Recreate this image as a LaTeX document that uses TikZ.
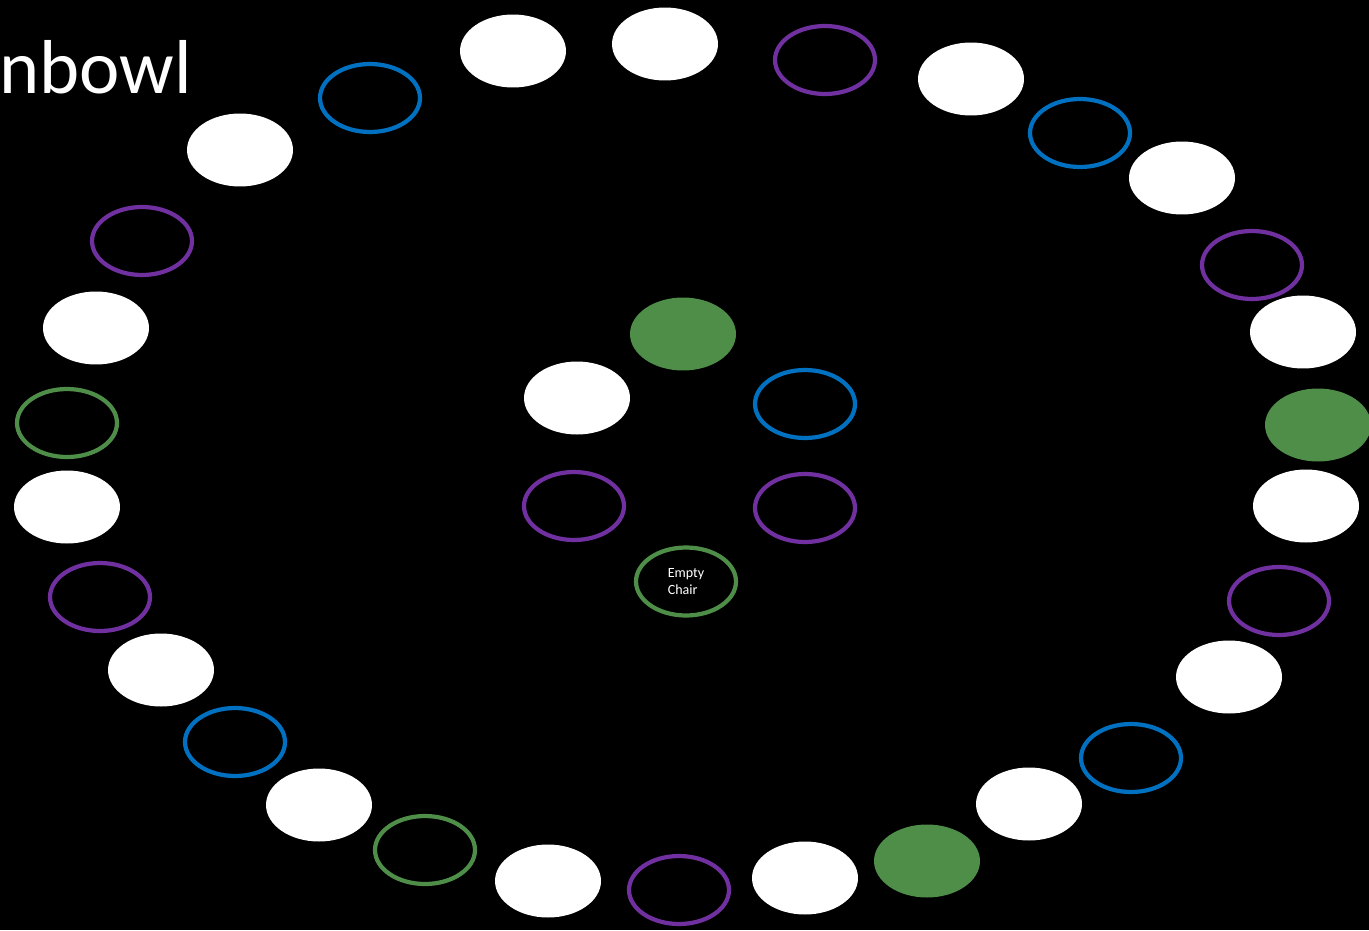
\documentclass[tikz,border=0pt]{standalone}
\usepackage{fontspec}
\setmainfont{Carlito}
\usetikzlibrary{shapes.geometric}
\definecolor{seatgreen}{HTML}{4E8E49}
\definecolor{seatblue}{HTML}{0070C0}
\definecolor{seatpurple}{HTML}{7030A0}
\begin{document}
\begin{tikzpicture}[
  x=0.02cm, y=-0.02cm,
  seat/.style={ellipse,inner sep=0pt,minimum width=2.12cm,minimum height=1.46cm},
  ring/.style={ellipse,inner sep=0pt,minimum width=2.0cm,minimum height=1.36cm,draw=#1,line width=2.4pt},
  wfill/.style={seat,fill=white},
  gfill/.style={seat,fill=seatgreen},
  pring/.style={ring=seatpurple},
  bring/.style={ring=seatblue},
  gring/.style={ring=seatgreen}
]
\fill[black] (0,0) rectangle (1369,930);
\clip (0,0) rectangle (1369,930);
\node[anchor=base west,text=white,font=\fontsize{43.5}{50}\selectfont,inner sep=0pt] (title) at (-1,93) {nbowl};
% outer circle
\foreach \n/\x/\y/\s in {
  1/513/51/wfill, 2/665/44/wfill, 3/825/60/pring, 4/971/79/wfill, 5/1080/133/bring,
  6/1182/178/wfill, 7/1252/265/pring, 8/1303/332/wfill, 9/1318/425/gfill,
  10/1306/506/wfill, 11/1279/601/pring, 12/1229/677/wfill, 13/1131/758/bring,
  14/1029/804/wfill, 15/927/861/gfill, 16/805/878/wfill, 17/679/890/pring,
  18/548/881/wfill, 19/425/850/gring, 20/319/805/wfill, 21/235/742/bring,
  22/161/670/wfill, 23/100/597/pring, 24/67/507/wfill, 25/67/423/gring,
  26/96/328/wfill, 27/142/241/pring, 28/240/150/wfill, 29/370/98/bring}
  \node[\s] (outer\n) at (\x,\y) {};
% inner circle
\node[gfill] (inner1) at (683,334) {};
\node[wfill] (inner2) at (577,398) {};
\node[bring] (inner3) at (805,404) {};
\node[pring] (inner4) at (574,506) {};
\node[pring] (inner5) at (805,508) {};
\node[gring,text=white,align=left,font=\fontsize{8}{9.2}\selectfont,text depth=0pt,yshift=-0.03cm] (empty) at (686,580) {Empty\\Chair};
\end{tikzpicture}
\end{document}
